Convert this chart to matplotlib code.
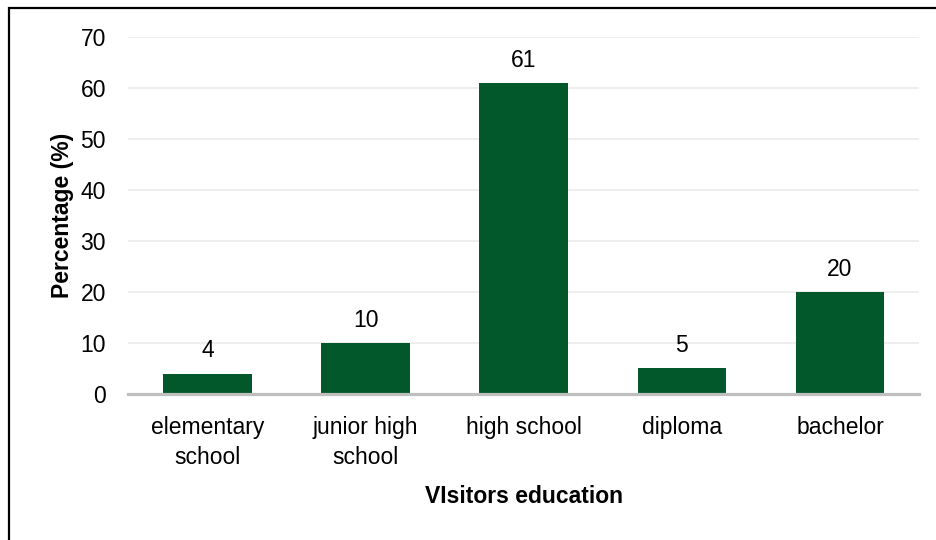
import matplotlib.pyplot as plt
from matplotlib.patches import Rectangle

plt.rcParams["font.family"] = ["Liberation Sans", "DejaVu Sans"]

categories = ["elementary\nschool", "junior high\nschool", "high school", "diploma", "bachelor"]
percentages = [4, 10, 61, 5, 20]
yticks = [0, 10, 20, 30, 40, 50, 60, 70]

bar_color = "#03582B"

fig = plt.figure(figsize=(9.36, 5.4), dpi=100)
ax = fig.add_axes([0.137, 0.2704, 0.845, 0.6611])

x = range(len(categories))
bars = ax.bar(x, percentages, width=0.56, color=bar_color, zorder=3)

# value labels above each bar
for rect, val in zip(bars, percentages):
    ax.annotate(f"{val}", (rect.get_x() + rect.get_width() / 2, rect.get_height()),
                xytext=(0, 8), textcoords="offset points",
                ha="center", va="bottom", fontsize=16.5)

ax.set_xlim(-0.5, len(categories) - 0.5)
ax.set_ylim(0, 70)
ax.set_yticks(yticks)
ax.set_xticks(list(x))
ax.set_xticklabels(categories, linespacing=1.4)

ax.tick_params(axis="y", length=0, pad=16, labelsize=16.5)
ax.tick_params(axis="x", length=0, pad=16, labelsize=16.5)

ax.grid(axis="y", color="#EBEBEB", linewidth=1.2, zorder=0)
for side in ["top", "right", "left"]:
    ax.spines[side].set_visible(False)
ax.spines["bottom"].set_color("#BFBFBF")
ax.spines["bottom"].set_linewidth(2.3)
ax.spines["bottom"].set_zorder(4)

ax.set_ylabel("Percentage (%)", fontsize=16.5, fontweight="bold", labelpad=5)
ax.set_xlabel("VIsitors education", fontsize=16.5, fontweight="bold", labelpad=11)

# outer frame around the chart
fig.patches.append(Rectangle((9 / 936, -0.1), 1.0, 1.1 - 8 / 540,
                             transform=fig.transFigure, fill=False,
                             edgecolor="black", linewidth=1.6, clip_on=False))

fig.savefig("out.png", dpi=100)
